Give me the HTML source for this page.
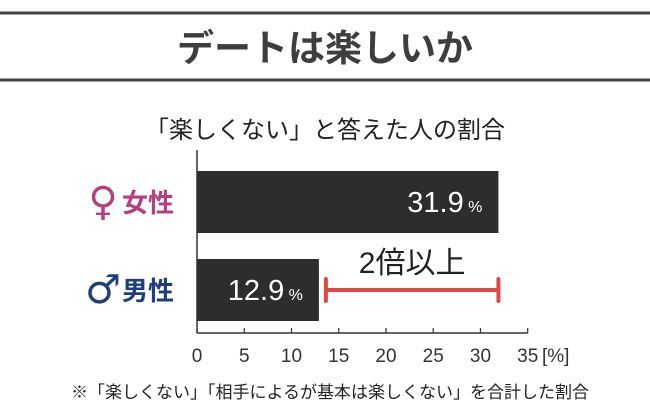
<!DOCTYPE html>
<html><head><meta charset="utf-8"><style>
body{margin:0;background:#fff;}
svg{display:block;font-family:"Liberation Sans","Noto Sans CJK JP",sans-serif;}
</style></head><body>
<svg width="650" height="417" viewBox="0 0 650 417">
<line x1="0" y1="13" x2="650" y2="13" stroke="#444" stroke-width="3"/>
<line x1="0" y1="80" x2="650" y2="80" stroke="#444" stroke-width="3"/>
<text x="325" y="61" text-anchor="middle" font-size="37" font-weight="bold" fill="#3e3e3e">デートは楽しいか</text>
<text x="325" y="138" text-anchor="middle" font-size="24" fill="#222">「楽しくない」と答えた人の割合</text>
<g id="plot"></g>
<text x="330" y="398" text-anchor="middle" font-size="17" fill="#222">※「楽しくない」「相手によるが基本は楽しくない」を合計した割合</text>
</svg>
<script>
const categories=["女性","男性"];
const values=[31.9,12.9];
const ticks=[0,5,10,15,20,25,30,35];
const colors=["#b5407f","#1e3f7a"];
const symbols=["♀","♂"];
const NS="http://www.w3.org/2000/svg";
const g=document.getElementById("plot");
const x0=197,x1=527.7,xmax=35;
const xs=v=>x0+(x1-x0)*v/xmax;
const bandTop=[171,259],bandH=62;
function mk(t,a,txt){const e=document.createElementNS(NS,t);for(const k in a)e.setAttribute(k,a[k]);if(txt!=null)e.textContent=txt;g.appendChild(e);return e;}
values.forEach((v,i)=>{
 const r=mk("rect",{x:x0,y:bandTop[i],width:xs(v)-x0,height:bandH,fill:"#2d2d2d"});
 
 
 const t=mk("text",{x:xs(v)-16,y:bandTop[i]+bandH/2+10,"text-anchor":"end",fill:"#fff","font-size":"29"});
 t.innerHTML=v.toFixed(1)+'<tspan font-size="16"> %</tspan>';
 
 
 const s=mk("text",{x:103,y:bandTop[i]+bandH/2+13,"text-anchor":"middle",fill:colors[i],"font-size":"40","font-weight":"bold",style:'font-family:"DejaVu Sans",sans-serif'},symbols[i]);
 
 
 const c=mk("text",{x:174,y:bandTop[i]+bandH/2+10,"text-anchor":"end",fill:colors[i],"font-size":"26","font-weight":"bold"},categories[i]);
 
 
});
const ax=mk("line",{x1:x0,y1:150,x2:x0,y2:333,stroke:"#333","stroke-width":"1.5"});


const bx=mk("line",{x1:x0,y1:333,x2:x1,y2:333,stroke:"#333","stroke-width":"1.5"});


ticks.forEach(t=>{
 const l=mk("line",{x1:xs(t),y1:328,x2:xs(t),y2:333,stroke:"#333","stroke-width":"1.2"});
 
 
 const tx=mk("text",{x:xs(t),y:362,"text-anchor":"middle","font-size":"19",fill:"#333"},String(t));
 
 
});
const u=mk("text",{x:542,y:362,"font-size":"19",fill:"#333"},"[%]");


const bxa=xs(values[1])+7,bxb=xs(values[0]);
const br=mk("path",{d:`M${bxa} 279V301M${bxa} 290H${bxb}M${bxb} 279V301`,stroke:"#e04848","stroke-width":"4",fill:"none","stroke-linecap":"round"});


const an=mk("text",{x:(bxa+bxb)/2,y:273,"text-anchor":"middle","font-size":"30",fill:"#222"},"2倍以上");


</script>
</body></html>
